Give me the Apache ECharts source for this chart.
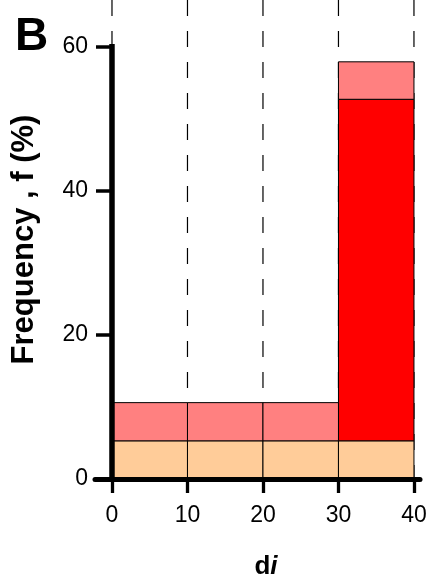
<!DOCTYPE html>
<html><head><meta charset="utf-8">
<script src="https://cdn.jsdelivr.net/npm/echarts@6/dist/echarts.min.js"></script>
<style>html,body{margin:0;padding:0;background:#fff}#c{width:432px;height:578px}</style>
</head><body><div id="c"></div>
<script>
// ---- data ----
const binStart = [0, 10, 20, 30];
const binEnd   = [10, 20, 30, 40];
const peachVals = [5.3, 5.3, 5.3, 5.3];   // bottom layer
const redVals   = [0, 0, 0, 47.4];        // middle layer
const pinkVals  = [5.3, 5.3, 5.3, 5.2];   // top layer
const xTicks = [0, 10, 20, 30, 40];
const yTicks = [0, 20, 40, 60];
const dashX  = [0, 10, 20, 30, 40];
const yAxisTop = 60;

// ---- build stacked rows [start, end, base, top] ----
function stackRows(vals, bases) {
  return vals.map((v, i) => [binStart[i], binEnd[i], bases[i], bases[i] + v]);
}
const zeros = binStart.map(() => 0);
const peachRows = stackRows(peachVals, zeros);
const redRows = stackRows(redVals, peachRows.map(r => r[3]));
const pinkRows = stackRows(pinkVals, redRows.map(r => r[3]));

const FONT = 'Liberation Sans, Arial, sans-serif';

function rectRender(color) {
  return function (params, api) {
    if (api.value(3) - api.value(2) <= 0) return null;
    const p0 = api.coord([api.value(0), api.value(2)]);
    const p1 = api.coord([api.value(1), api.value(3)]);
    return {
      type: 'rect',
      shape: { x: p0[0], y: p1[1], width: p1[0] - p0[0], height: p0[1] - p1[1] },
      style: { fill: color, stroke: '#000', lineWidth: 1 }
    };
  };
}

const chart = echarts.init(document.getElementById('c'), null, { renderer: 'canvas' });
chart.setOption({
  animation: false,
  backgroundColor: '#fff',
  title: {
    text: 'B', left: 10, top: 9,
    textStyle: { fontFamily: FONT, fontWeight: 'bold', fontSize: 46, color: '#000' }
  },
  grid: { left: 95, right: 12, top: 0, bottom: 99, containLabel: false, outerBoundsMode: 'none' },
  xAxis: {
    type: 'value', min: -2.25, max: 40.8, z: 10,
    axisLine: { show: true, onZero: false, lineStyle: { color: '#000', width: 5 } },
    axisTick: { show: true, customValues: xTicks, length: 14, lineStyle: { color: '#000', width: 3.3 } },
    axisLabel: { customValues: xTicks, fontFamily: FONT, fontSize: 23, color: '#000', margin: 25 },
    splitLine: { show: false },
    name: '{d|d}{i|i}', nameLocation: 'middle', nameGap: 75, nameMoveOverlap: false,
    nameTextStyle: {
      rich: {
        d: { fontFamily: FONT, fontWeight: 'bold', fontSize: 26, color: '#000', padding: [0, 0, 0, 17] },
        i: { fontFamily: FONT, fontWeight: 'bold', fontStyle: 'italic', fontSize: 26, color: '#000' }
      }
    }
  },
  yAxis: {
    type: 'value', min: 0, max: 66.48, z: 10, offset: -17,
    axisLine: { show: false, onZero: false },
    axisTick: { show: true, customValues: yTicks, length: 16, lineStyle: { color: '#000', width: 3.5 } },
    axisLabel: { customValues: yTicks, fontFamily: FONT, fontSize: 23, color: '#000', margin: 24 },
    splitLine: { show: false },
    name: 'Frequency , f (%)', nameLocation: 'middle', nameRotate: 90, nameGap: 72, nameMoveOverlap: false,
    nameTextStyle: { fontFamily: FONT, fontWeight: 'bold', fontSize: 31, color: '#000' }
  },
  series: [
    {
      type: 'custom', z: 1, silent: true,
      data: dashX.map(x => [x, 0, 66.48]),
      encode: { x: 0, y: [1, 2] },
      renderItem: function (params, api) {
        const a = api.coord([api.value(0), api.value(2)]);
        const b = api.coord([api.value(0), api.value(1)]);
        return {
          type: 'line', shape: { x1: a[0], y1: a[1], x2: b[0], y2: b[1] },
          style: { stroke: '#000', lineWidth: 1.2, lineDash: [16, 15] }
        };
      }
    },
    { type: 'custom', z: 2, silent: true, data: peachRows, encode: { x: [0, 1], y: [2, 3] }, renderItem: rectRender('#FFCC99') },
    { type: 'custom', z: 2, silent: true, data: redRows, encode: { x: [0, 1], y: [2, 3] }, renderItem: rectRender('#FF0000') },
    { type: 'custom', z: 2, silent: true, data: pinkRows, encode: { x: [0, 1], y: [2, 3] }, renderItem: rectRender('#FF8080') },
    {
      type: 'custom', z: 5, silent: true,
      data: [[0, 0, yAxisTop]],
      encode: { x: 0, y: [1, 2] },
      renderItem: function (params, api) {
        const a = api.coord([api.value(0), api.value(1)]);
        const b = api.coord([api.value(0), api.value(2)]);
        return {
          type: 'line', shape: { x1: a[0], y1: a[1], x2: b[0], y2: b[1] },
          style: { stroke: '#000', lineWidth: 5.5, lineCap: 'square' }
        };
      }
    }
  ]
});
</script></body></html>
